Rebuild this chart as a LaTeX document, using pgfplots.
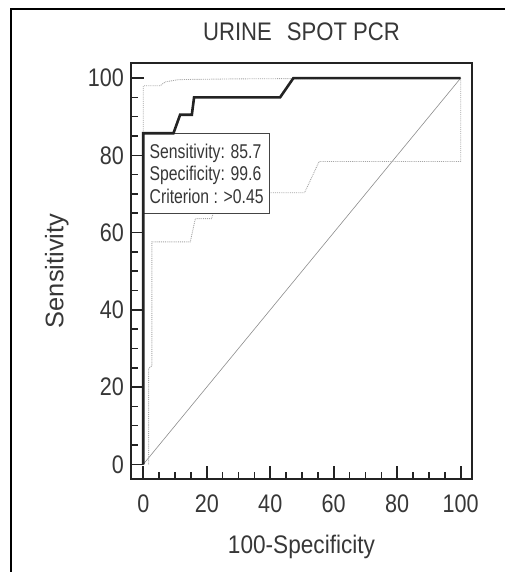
\documentclass[border=0pt]{standalone}
\usepackage{pgfplots}
\pgfplotsset{compat=1.18}
\usepackage{fontspec}
\setmainfont{Liberation Sans}
\newfontfamily\titlefont[FakeStretch=0.87]{Liberation Sans}
\newfontfamily\tickfont[FakeStretch=0.85]{Liberation Sans}
\newfontfamily\xlabfont[FakeStretch=0.89]{Liberation Sans}
\newfontfamily\ylabfont[FakeStretch=1.0]{Liberation Sans}
\newfontfamily\boxfont[FakeStretch=0.79]{Liberation Sans}
\definecolor{ink}{RGB}{35,35,35}
\definecolor{txt}{RGB}{55,55,55}
\definecolor{cigray}{RGB}{165,165,165}
\definecolor{diag}{RGB}{140,140,140}
\begin{document}
\begin{tikzpicture}
\path[use as bounding box] (0,0) rectangle (505bp,572bp);
\draw[line width=2bp, black] (11bp,0bp) -- (11bp,562.7bp) -- (505bp,562.7bp);
\begin{axis}[
  at={(131bp,93bp)}, anchor=south west,
  scale only axis, width=341bp, height=416bp,
  xmin=-3.87, xmax=103.56, ymin=-3.8, ymax=103.9,
  axis line style={line width=2.6bp, ink},
  xtick={0,20,...,100}, ytick={0,20,...,100},
  minor tick num=3,
  tick pos=left, tick align=inside,
  major tick length=13bp, minor tick length=7bp,
  every tick/.append style={line width=1.6bp, ink},
  ticklabel style={font=\tickfont\fontsize{25.5}{26}\selectfont, inner sep=0pt, text=txt},
  yticklabel style={anchor=east, xshift=-7bp},
  xticklabel style={anchor=north, yshift=-16bp},
  /pgf/number format/assume math mode=true,
  title={URINE\hspace{15bp}SPOT PCR},
  title style={at={(axis description cs:0.5,1.0399)}, anchor=base, inner sep=0pt, text=txt, font=\titlefont\fontsize{25.5}{26}\selectfont},
  xlabel={100-Specificity},
  xlabel style={at={(axis description cs:0.5,-0.1786)}, anchor=base, inner sep=0pt, text=txt, font=\xlabfont\fontsize{25.5}{26}\selectfont},
  ylabel={Sensitivity},
  ylabel style={at={(axis description cs:-0.1985,0.5)}, anchor=base, inner sep=0pt, text=txt, font=\ylabfont\fontsize{25.5}{26}\selectfont},
  clip=false,
]
% diagonal reference line
\addplot[diag, line width=0.6bp] coordinates {(0,0) (100,100)};
% upper 95% CI
\addplot[cigray, densely dotted, line width=0.9bp] coordinates {
  (0,0) (0,98.0) (5.3,98.0) (6.9,99.0) (11.1,99.6) (30,99.8) (100,100)};
% lower 95% CI
\addplot[cigray, densely dotted, line width=0.9bp] coordinates {
  (1.7,0) (1.7,24.8) (2.7,25.5) (2.7,57.6) (14.8,57.6) (16.4,63.6)
  (21.5,63.6) (24,70.3) (50.8,70.3) (55.4,78.4) (100,78.4) (100,100)};
% criterion box
\node[draw=ink!85, line width=0.8bp, fill=white, anchor=north west,
  minimum width=122.4bp, minimum height=80bp, inner xsep=6bp, align=left,
  text=txt, font=\boxfont\fontsize{20}{22.3}\selectfont]
  at (axis cs:0,85.7) {Sensitivity: 85.7\\Specificity: 99.6\\Criterion : >0.45};
% ROC curve
\addplot[ink, line width=2.6bp] coordinates {
  (0,0) (0,85.7) (9.5,85.7) (11.6,90.5) (15.3,90.5) (16.0,95.0)
  (43.1,95.0) (47.3,100) (100,100)};
\end{axis}
\end{tikzpicture}
\end{document}
